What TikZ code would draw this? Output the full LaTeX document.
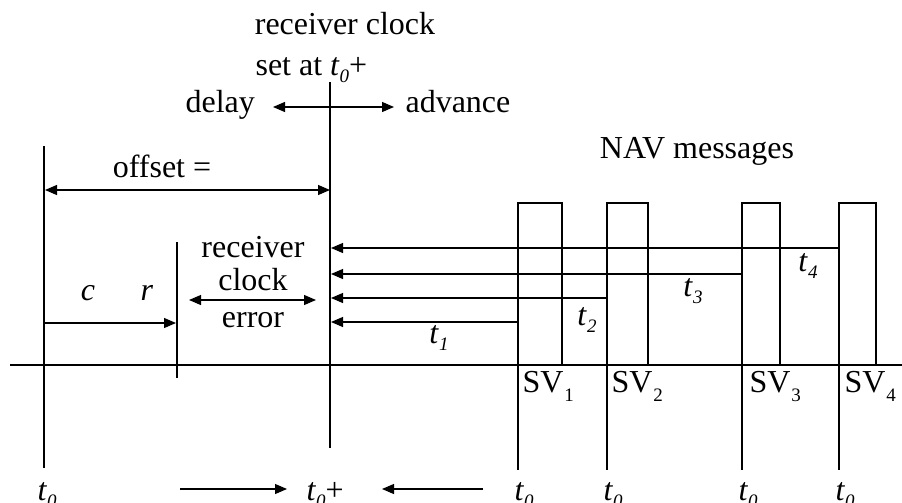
\documentclass[tikz,border=0pt]{standalone}
\usepackage{fontspec}
\setmainfont{Liberation Serif}
\usetikzlibrary{arrows.meta}
\newcommand{\tsub}[1]{\textit{t}\raisebox{-7pt}{\fontsize{19}{19}\selectfont\textit{#1}}}
\newcommand{\svsub}[1]{SV\kern1pt\raisebox{-9pt}{\fontsize{19}{19}\selectfont #1}}
\begin{document}
\begin{tikzpicture}[x=1pt,y=-1pt,
  font=\fontsize{32}{36}\selectfont,
  line width=1.1pt,
  txt/.style={inner sep=0pt,anchor=base},
  txtw/.style={inner sep=0pt,anchor=base west},
  arr/.style={-{Triangle[length=12pt,width=10pt]}},
  darr/.style={{Triangle[length=12pt,width=10pt]}-{Triangle[length=12pt,width=10pt]}},
  svbox/.style={draw,line width=1.1pt}]
\useasboundingbox (0,0) rectangle (902,503);
% axis
\coordinate (axL) at (10,365);
\coordinate (axR) at (902,365);
\draw (axL) -- (axR);
% verticals
\coordinate (v0t) at (44,146); \coordinate (v0b) at (44,468);
\coordinate (vct) at (330,82); \coordinate (vcb) at (330,448);
\coordinate (vrt) at (177,242); \coordinate (vrb) at (177,378);
\draw (v0t) -- (v0b);
\draw (vct) -- (vcb);
\draw (vrt) -- (vrb);
% top texts
\node[txt] (rc) at (345,35) {receiver clock};
\node[txtw] (set) at (255,75) {set at \tsub{0}+};
\node[txtw] (delay) at (185,112) {delay};
\node[txtw] (adv) at (405,112) {advance};
\coordinate (dl) at (273,107); \coordinate (dr) at (394,107);
\draw[darr] (dl) -- (dr);
% offset
\node[txt] (off) at (162,177) {offset =};
\coordinate (ol) at (45,190); \coordinate (or) at (330,190);
\draw[darr] (ol) -- (or);
\node[txt] (nav) at (697,158) {NAV messages};
% c r
\node[txt] (c) at (88,300) {\textit{c}};
\node[txt] (r) at (147,300) {\textit{r}};
\coordinate (crl) at (45,323); \coordinate (crr) at (176,323);
\draw[arr] (crl) -- (crr);
% receiver clock error
\node[txt] (e1) at (253,257) {receiver};
\node[txt] (e2) at (253,290) {clock};
\node[txt] (e3) at (253,327) {error};
\coordinate (el) at (189,300); \coordinate (er) at (316,300);
\draw[darr] (el) -- (er);
% SV boxes
\coordinate (s1a) at (518,203); \coordinate (s1b) at (562,365);
\coordinate (s2a) at (607,203); \coordinate (s2b) at (648,365);
\coordinate (s3a) at (742,203); \coordinate (s3b) at (780,365);
\coordinate (s4a) at (839,203); \coordinate (s4b) at (876,365);
\draw[svbox] (s1a) rectangle (s1b);
\draw[svbox] (s2a) rectangle (s2b);
\draw[svbox] (s3a) rectangle (s3b);
\draw[svbox] (s4a) rectangle (s4b);
% drop lines
\coordinate (d1) at (518,470); \coordinate (d2) at (607,470);
\coordinate (d3) at (742,470); \coordinate (d4) at (839,470);
\draw (s1a |- axL) -- (d1);
\draw (s2a |- axL) -- (d2);
\draw (s3a |- axL) -- (d3);
\draw (s4a |- axL) -- (d4);
% signal arrows
\coordinate (a1) at (331,322); \coordinate (a2) at (331,298);
\coordinate (a3) at (331,274); \coordinate (a4) at (331,248);
\draw[arr] (s1a |- a1) -- (a1);
\draw[arr] (s2a |- a2) -- (a2);
\draw[arr] (s3a |- a3) -- (a3);
\draw[arr] (s4a |- a4) -- (a4);
\node[txt] (t1) at (439,343) {\tsub{1}};
\node[txt] (t2) at (587,325) {\tsub{2}};
\node[txt] (t3) at (693,296) {\tsub{3}};
\node[txt] (t4) at (808,271) {\tsub{4}};
% SV labels
\node[txtw] (sv1) at (522,392) {\svsub{1}};
\node[txtw] (sv2) at (611,392) {\svsub{2}};
\node[txtw] (sv3) at (749,392) {\svsub{3}};
\node[txtw] (sv4) at (844,392) {\svsub{4}};
% bottom labels
\node[txtw] (b0) at (37,500) {\tsub{0}};
\node[txtw] (bp) at (306,500) {\tsub{0}+};
\node[txtw] (b1) at (514,500) {\tsub{0}};
\node[txtw] (b2) at (603,500) {\tsub{0}};
\node[txtw] (b3) at (738,500) {\tsub{0}};
\node[txtw] (b4) at (835,500) {\tsub{0}};
\coordinate (bal) at (180,489); \coordinate (bar) at (287,489);
\coordinate (bbl) at (382,489); \coordinate (bbr) at (483,489);
\draw[arr] (bal) -- (bar);
\draw[arr] (bbr) -- (bbl);
\end{tikzpicture}
\end{document}
